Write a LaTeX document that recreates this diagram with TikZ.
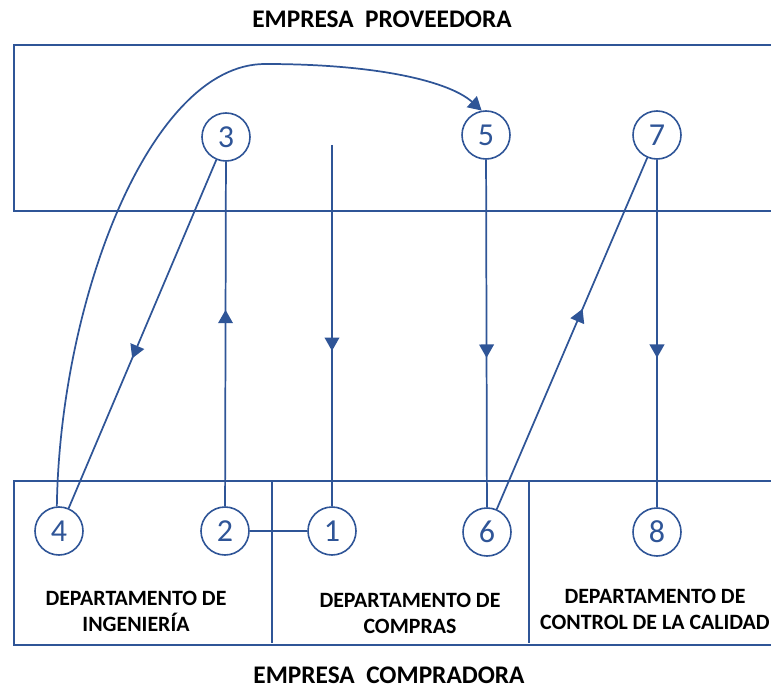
\documentclass[tikz,border=0pt]{standalone}
\usepackage{fontspec}
\setmainfont{Carlito}
\usetikzlibrary{arrows.meta,decorations.markings}
\definecolor{lblue}{RGB}{47,85,151}
\begin{document}
\begin{tikzpicture}[x=0.75pt,y=-0.75pt,
  box/.style={draw=lblue,line width=1.4pt},
  num/.style={circle,draw=lblue,line width=1.2pt,minimum size=36pt,inner sep=0pt,text=lblue,font=\fontsize{24}{24}\selectfont},
  conn/.style={draw=lblue,color=lblue,line width=1.3pt},
  midarrow/.style={postaction={decorate},decoration={markings,mark=at position 0.57 with {\arrow{Triangle[length=10pt,width=11pt]}}}},
  title/.style={font=\bfseries\fontsize{19}{19}\selectfont},
  dept/.style={font=\bfseries\fontsize{16.4}{19.5}\selectfont,align=center}]
\useasboundingbox (0,0) rectangle (771,688);
\clip (0,0) rectangle (771,688);
% boxes
\draw[box] (785,45) -- (14,45) -- (14,211) -- (785,211);
\draw[box] (785,481) -- (14,481) -- (14,645) -- (785,645);
\draw[box] (272,481) -- (272,643);
\draw[box] (529,481) -- (529,643);
% titles
\node[title] (t1) at (382,19) {EMPRESA\ \ PROVEEDORA};
\node[title] (t2) at (389,675) {EMPRESA\ \ COMPRADORA};
% department labels
\node[dept] (d1) at (136,611) {DEPARTAMENTO DE\\INGENIERÍA};
\node[dept] (d2) at (410,613) {DEPARTAMENTO DE\\COMPRAS};
\node[dept] (d3) at (655,609) {DEPARTAMENTO DE\\CONTROL DE LA CALIDAD};
% circles
\node[num] (n3) at (226,137) {3};
\node[num] (n5) at (486,135) {5};
\node[num] (n7) at (657,135) {7};
\node[num] (n4) at (59,531) {4};
\node[num] (n2) at (225,531) {2};
\node[num] (n1) at (332,531) {1};
\node[num] (n6) at (487,532) {6};
\node[num] (n8) at (657,532) {8};
\coordinate (c1) at (332,145);
% connectors
\draw[conn,midarrow] (n3) -- (n4);
\draw[conn,midarrow] (n2) -- (n3);
\draw[conn,midarrow] (c1) -- (n1);
\draw[conn,midarrow] (n5) -- (n6);
\draw[conn,midarrow] (n6) -- (n7);
\draw[conn,midarrow] (n7) -- (n8);
\draw[conn] (n2) -- (n1);
\draw[conn,-{Triangle[length=10pt,width=11pt]}] (n4.95) .. controls (60,300) and (150,64) .. (265,64) .. controls (380,64) and (450,82) .. (n5.100);
\end{tikzpicture}
\end{document}
